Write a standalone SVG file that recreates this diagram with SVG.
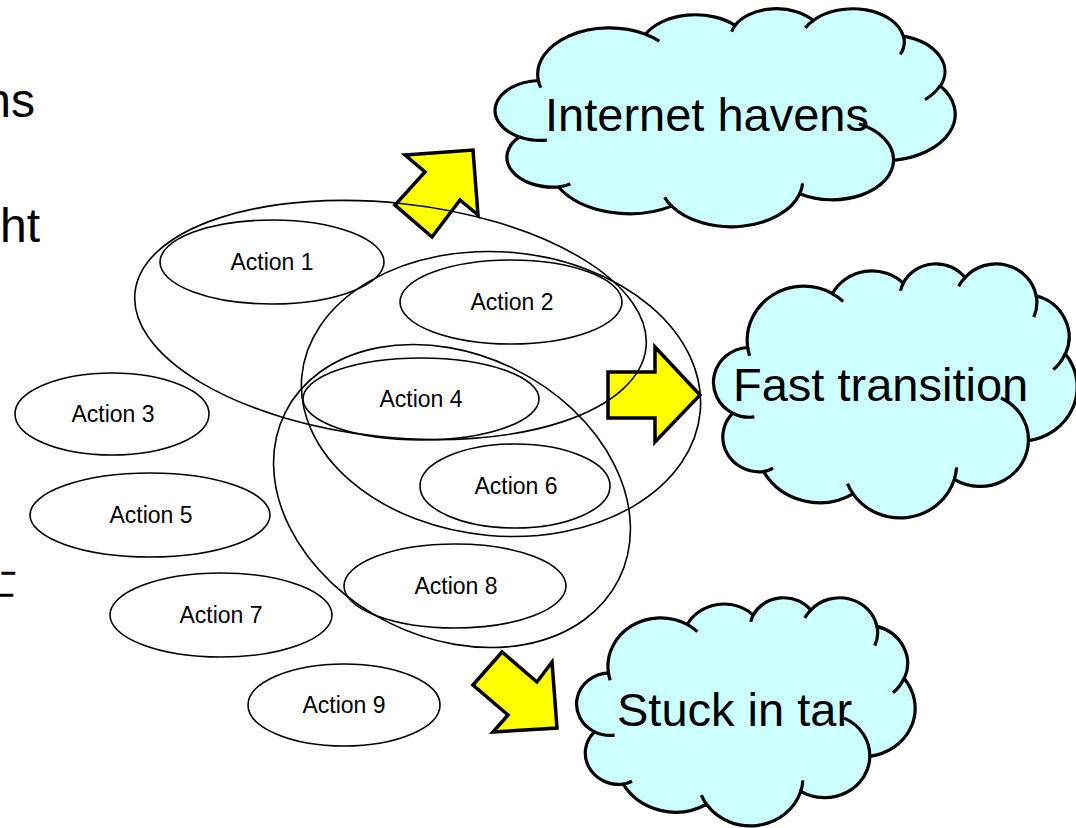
<svg xmlns="http://www.w3.org/2000/svg" xmlns:xlink="http://www.w3.org/1999/xlink" width="1076" height="828" viewBox="0 0 1076 828">
<style>
  .bg { fill: #ffffff; }
  .act { fill: none; stroke: #000; stroke-width: 1.6; }
  .grp { fill: none; stroke: #000; stroke-width: 1.6; }
  .actlbl { font-family: "Liberation Sans", Arial, sans-serif; font-size: 23px; fill: #000; text-anchor: middle; }
  .cloudlbl { font-family: "Liberation Sans", Arial, sans-serif; font-size: 47px; fill: #000; }
  .frag { font-family: "Liberation Sans", Arial, sans-serif; font-size: 48px; fill: #000; }
  .dash { font-family: "Liberation Sans", Arial, sans-serif; font-size: 20px; fill: #000; stroke: #000; stroke-width: 1.4; }
  .arrow { fill: #ffff00; stroke: #000; stroke-width: 3.5; stroke-linejoin: miter; }
  .cbody { fill: #ccffff; stroke: #000; stroke-width: 3.2; vector-effect: non-scaling-stroke; }
  .ccrease { fill: none; stroke: #000; stroke-width: 3.2; vector-effect: non-scaling-stroke; }
</style>
<defs>
  <g id="cloud">
    <path class="cbody" d="M 3900 14370 A 6753 9190 0 0 1 14005 5202 A 5333 7267 0 0 1 22456 3432 A 4365 5945 0 0 1 29834 2481 A 4857 6595 0 0 1 38319 5575 A 5333 7273 0 0 1 41819 15461 A 6775 9220 0 0 1 37403 30201 A 5785 7867 0 0 1 28554 36811 A 6752 9215 0 0 1 16479 39264 A 7720 10543 0 0 1 5802 35470 A 4360 5918 0 0 1 2112 25546 A 4345 5945 0 0 1 3900 14370 Z"/>
    <path class="ccrease" d="M 4693 26177 A 4345 5945 0 0 1 2112 25546 M 6928 34899 A 4360 5918 0 0 1 5802 35470 M 16479 39264 A 6752 9215 0 0 1 15811 37522 M 28827 34751 A 6752 9215 0 0 1 28554 36811 M 34129 22954 A 5785 7867 0 0 1 37403 30201 M 41798 15354 A 5333 7273 0 0 1 40371 18136 M 38324 5426 A 4857 6595 0 0 1 38046 9203 M 29078 3952 A 4857 6595 0 0 1 29834 2481 M 22141 4720 A 4365 5945 0 0 1 22456 3432 M 14000 5192 A 6753 9190 0 0 1 15305 6551 M 4127 15789 A 6753 9190 0 0 1 3900 14370"/>
  </g>
</defs>
<rect class="bg" x="0" y="0" width="1076" height="828"/>

<g id="text-fragments">
  <text class="frag" x="35" y="117" text-anchor="end">ns</text>
  <text class="frag" x="40" y="242" text-anchor="end">ht</text>
  <text class="dash" transform="translate(1,579) scale(2.2,1)">-</text>
  <text class="dash" transform="translate(-1,601) scale(2.2,1)">-</text>
</g>

<g id="node-internet-havens">
  <use href="#cloud" transform="translate(497,8) scale(0.010602,0.005046)"/>
  <text class="cloudlbl" x="545" y="131">Internet havens</text>
</g>
<g id="node-fast-transition">
  <use href="#cloud" transform="translate(715,263) scale(0.008380,0.005880)"/>
  <text class="cloudlbl" x="733" y="401">Fast transition</text>
</g>
<g id="node-stuck-in-tar">
  <use href="#cloud" transform="translate(578,597) scale(0.007801,0.005278)"/>
  <text class="cloudlbl" x="617" y="726">Stuck in tar</text>
</g>

<g id="connectors">
  <polygon class="arrow" points="405,155 473,150 478,215 460,200 432,237 395,205 425,172"/>
  <polygon class="arrow" points="608,372 655,372 655,347 700,395 655,442 655,418 608,418"/>
  <polygon class="arrow" points="473,685 502,652 537,682 552,662 557,728 493,732 508,715"/>
</g>

<g id="node-group-a">
  <ellipse class="grp" cx="390.5" cy="320" rx="257" ry="117" transform="rotate(6.2 390.5 320)"/>
</g>
<g id="node-group-b">
  <ellipse class="grp" cx="501" cy="394" rx="200" ry="142" transform="rotate(5 501 394)"/>
</g>
<g id="node-group-c">
  <ellipse class="grp" cx="452" cy="496" rx="186.5" ry="141.5" transform="rotate(26.5 452 496)"/>
</g>

<g id="node-action-1">
  <ellipse class="act" cx="272" cy="262" rx="112" ry="42"/>
  <text class="actlbl" x="272" y="270">Action 1</text>
</g>
<g id="node-action-2">
  <ellipse class="act" cx="511" cy="302" rx="111" ry="42"/>
  <text class="actlbl" x="512" y="310">Action 2</text>
</g>
<g id="node-action-3">
  <ellipse class="act" cx="112" cy="414" rx="97" ry="41"/>
  <text class="actlbl" x="113" y="422">Action 3</text>
</g>
<g id="node-action-4">
  <ellipse class="act" cx="421" cy="399" rx="118" ry="41"/>
  <text class="actlbl" x="421" y="407">Action 4</text>
</g>
<g id="node-action-5">
  <ellipse class="act" cx="150" cy="515" rx="120" ry="42"/>
  <text class="actlbl" x="151" y="523">Action 5</text>
</g>
<g id="node-action-6">
  <ellipse class="act" cx="515" cy="486" rx="95" ry="42"/>
  <text class="actlbl" x="516" y="494">Action 6</text>
</g>
<g id="node-action-7">
  <ellipse class="act" cx="221" cy="615" rx="111" ry="42"/>
  <text class="actlbl" x="221" y="623">Action 7</text>
</g>
<g id="node-action-8">
  <ellipse class="act" cx="455" cy="586" rx="111" ry="42"/>
  <text class="actlbl" x="456" y="594">Action 8</text>
</g>
<g id="node-action-9">
  <ellipse class="act" cx="344" cy="705" rx="96" ry="41"/>
  <text class="actlbl" x="344" y="713">Action 9</text>
</g>
</svg>
